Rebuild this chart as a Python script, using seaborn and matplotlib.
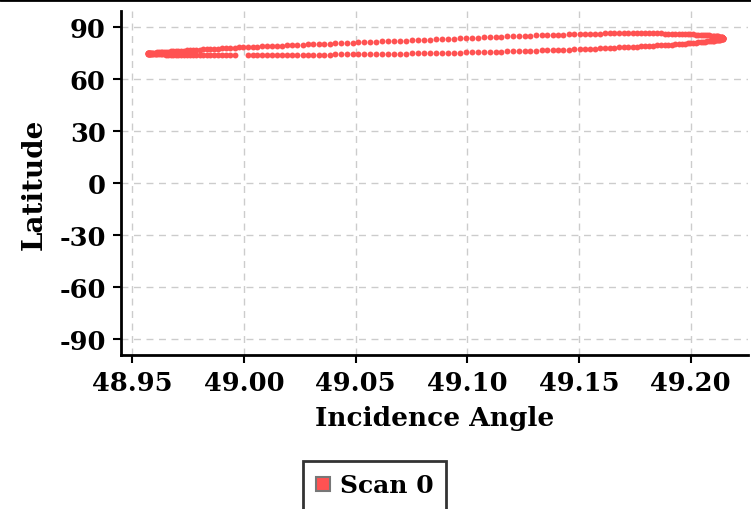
import pandas as pd
import matplotlib.pyplot as plt
from matplotlib.lines import Line2D
import seaborn as sns

# lower branch of the loop (left tip -> right tip), two dots missing near 49.00
inc_lower = [48.9572, 48.9572, 48.9573, 48.9575, 48.9577, 48.9579, 48.9582, 48.9586, 48.9590, 48.9595,
             48.9600, 48.9606, 48.9612, 48.9619, 48.9627, 48.9635, 48.9644, 48.9653, 48.9662, 48.9673,
             48.9683, 48.9695, 48.9706, 48.9719, 48.9731, 48.9744, 48.9758, 48.9772, 48.9787, 48.9802,
             48.9818, 48.9834, 48.9850, 48.9867, 48.9885, 48.9903, 48.9921, 48.9940, 48.9959,
             49.0018, 49.0039, 49.0060, 49.0081, 49.0103, 49.0125, 49.0147, 49.0169, 49.0192, 49.0216,
             49.0239, 49.0263, 49.0287, 49.0311, 49.0336, 49.0360, 49.0385, 49.0410, 49.0436, 49.0461,
             49.0487, 49.0513, 49.0539, 49.0565, 49.0591, 49.0618, 49.0644, 49.0671, 49.0698, 49.0725,
             49.0751, 49.0778, 49.0805, 49.0832, 49.0859, 49.0886, 49.0913, 49.0940, 49.0967, 49.0994,
             49.1020, 49.1047, 49.1074, 49.1100, 49.1127, 49.1153, 49.1179, 49.1205, 49.1231, 49.1257,
             49.1282, 49.1308, 49.1333, 49.1358, 49.1383, 49.1407, 49.1431, 49.1455, 49.1479, 49.1503,
             49.1526, 49.1549, 49.1571, 49.1594, 49.1616, 49.1637, 49.1658, 49.1679, 49.1700, 49.1720,
             49.1740, 49.1760, 49.1779, 49.1797, 49.1815, 49.1833, 49.1851, 49.1868, 49.1884, 49.1900,
             49.1916, 49.1931, 49.1946, 49.1960, 49.1974, 49.1987, 49.1999, 49.2012, 49.2024, 49.2035,
             49.2045, 49.2056, 49.2065, 49.2074, 49.2083, 49.2091, 49.2099, 49.2106, 49.2112, 49.2118,
             49.2123, 49.2128, 49.2132, 49.2136, 49.2139, 49.2142, 49.2144, 49.2145, 49.2146, 49.2146]
lat_lower = [74.70, 74.66, 74.62, 74.58, 74.54, 74.50, 74.46, 74.42, 74.38, 74.34,
             74.30, 74.26, 74.22, 74.19, 74.17, 74.14, 74.12, 74.09, 74.07, 74.05,
             74.02, 74.00, 73.98, 73.95, 73.93, 73.90, 73.89, 73.89, 73.88, 73.88,
             73.87, 73.87, 73.86, 73.86, 73.86, 73.85, 73.85, 73.85, 73.85,
             73.86, 73.86, 73.87, 73.87, 73.88, 73.88, 73.89, 73.89, 73.90, 73.90,
             73.93, 73.96, 73.98, 74.01, 74.04, 74.07, 74.10, 74.12, 74.15, 74.18,
             74.21, 74.23, 74.28, 74.33, 74.38, 74.43, 74.48, 74.54, 74.59, 74.64,
             74.69, 74.74, 74.80, 74.85, 74.90, 74.98, 75.06, 75.14, 75.22, 75.30,
             75.38, 75.46, 75.54, 75.62, 75.70, 75.78, 75.86, 75.96, 76.06, 76.16,
             76.26, 76.37, 76.47, 76.58, 76.68, 76.78, 76.89, 76.99, 77.10, 77.20,
             77.32, 77.44, 77.56, 77.68, 77.80, 77.92, 78.04, 78.16, 78.28, 78.40,
             78.52, 78.64, 78.77, 78.90, 79.04, 79.18, 79.31, 79.45, 79.59, 79.72,
             79.86, 80.00, 80.13, 80.27, 80.40, 80.54, 80.67, 80.81, 80.94, 81.08,
             81.22, 81.35, 81.49, 81.62, 81.76, 81.90, 82.03, 82.16, 82.27, 82.38,
             82.50, 82.61, 82.72, 82.83, 82.94, 83.06, 83.17, 83.28, 83.39, 83.50]

# upper branch (right tip -> left tip)
inc_upper = [49.2146, 49.2145, 49.2144, 49.2142, 49.2139, 49.2136, 49.2132, 49.2128, 49.2123, 49.2118,
             49.2112, 49.2106, 49.2099, 49.2091, 49.2083, 49.2074, 49.2065, 49.2056, 49.2045, 49.2035,
             49.2024, 49.2012, 49.1999, 49.1987, 49.1974, 49.1960, 49.1946, 49.1931, 49.1916, 49.1900,
             49.1884, 49.1868, 49.1851, 49.1833, 49.1815, 49.1797, 49.1779, 49.1760, 49.1740, 49.1720,
             49.1700, 49.1679, 49.1658, 49.1637, 49.1616, 49.1594, 49.1571, 49.1549, 49.1526, 49.1503,
             49.1479, 49.1455, 49.1431, 49.1407, 49.1383, 49.1358, 49.1333, 49.1308, 49.1282, 49.1257,
             49.1231, 49.1205, 49.1179, 49.1153, 49.1127, 49.1100, 49.1074, 49.1047, 49.1020, 49.0994,
             49.0967, 49.0940, 49.0913, 49.0886, 49.0859, 49.0832, 49.0805, 49.0778, 49.0751, 49.0725,
             49.0698, 49.0671, 49.0644, 49.0618, 49.0591, 49.0565, 49.0539, 49.0513, 49.0487, 49.0461,
             49.0436, 49.0410, 49.0385, 49.0360, 49.0336, 49.0311, 49.0287, 49.0263, 49.0239, 49.0216,
             49.0192, 49.0169, 49.0147, 49.0125, 49.0103, 49.0081, 49.0060, 49.0039, 49.0018, 48.9998,
             48.9978, 48.9959, 48.9940, 48.9921, 48.9903, 48.9885, 48.9867, 48.9850, 48.9834, 48.9818,
             48.9802, 48.9787, 48.9772, 48.9758, 48.9744, 48.9731, 48.9719, 48.9706, 48.9695, 48.9683,
             48.9673, 48.9662, 48.9653, 48.9644, 48.9635, 48.9627, 48.9619, 48.9612, 48.9606, 48.9600,
             48.9595, 48.9590, 48.9586, 48.9582, 48.9579, 48.9577, 48.9575, 48.9573, 48.9572]
lat_upper = [83.61, 83.72, 83.83, 83.94, 84.06, 84.17, 84.28, 84.39, 84.50, 84.62,
             84.73, 84.84, 84.95, 85.04, 85.13, 85.22, 85.30, 85.39, 85.47, 85.55,
             85.62, 85.70, 85.77, 85.84, 85.90, 85.96, 86.01, 86.06, 86.11, 86.16,
             86.20, 86.24, 86.27, 86.30, 86.33, 86.36, 86.38, 86.39, 86.40, 86.40,
             86.39, 86.37, 86.34, 86.30, 86.25, 86.19, 86.13, 86.06, 85.98, 85.90,
             85.81, 85.72, 85.62, 85.52, 85.42, 85.31, 85.20, 85.09, 84.98, 84.86,
             84.74, 84.62, 84.50, 84.37, 84.24, 84.11, 83.97, 83.83, 83.69, 83.55,
             83.41, 83.27, 83.13, 82.99, 82.85, 82.71, 82.57, 82.43, 82.29, 82.15,
             82.02, 81.89, 81.76, 81.63, 81.50, 81.37, 81.24, 81.11, 80.98, 80.84,
             80.71, 80.57, 80.44, 80.30, 80.17, 80.03, 79.90, 79.76, 79.63, 79.50,
             79.37, 79.25, 79.12, 79.00, 78.87, 78.75, 78.63, 78.51, 78.39, 78.27,
             78.15, 78.03, 77.91, 77.79, 77.67, 77.55, 77.43, 77.31, 77.19, 77.07,
             76.95, 76.83, 76.71, 76.59, 76.48, 76.38, 76.28, 76.18, 76.08, 75.99,
             75.90, 75.81, 75.72, 75.63, 75.55, 75.47, 75.39, 75.32, 75.25, 75.18,
             75.12, 75.06, 75.00, 74.95, 74.90, 74.85, 74.81, 74.77, 74.73]

scan_label = 'Scan 0'
inc_ticks = [48.95, 49.00, 49.05, 49.10, 49.15, 49.20]
lat_ticks = [-90, -60, -30, 0, 30, 60, 90]

df = pd.DataFrame({'Incidence Angle': inc_lower + inc_upper,
                   'Latitude': lat_lower + lat_upper})

sns.set_theme(style='whitegrid')
plt.rcParams['font.family'] = ['DejaVu Serif']
plt.rcParams['font.weight'] = 'bold'
plt.rcParams['axes.unicode_minus'] = False
plt.rcParams['text.color'] = 'black'

red = '#ff5252'
fig = plt.figure(figsize=(7.51, 5.10), dpi=100)
ax = fig.add_axes([121 / 751, 1 - 356 / 510, 627 / 751, 344 / 510])

sns.scatterplot(data=df, x='Incidence Angle', y='Latitude', ax=ax,
                color=red, s=18, linewidth=0, legend=False)

ax.set_xlim(48.945, 49.2257)
ax.set_ylim(-99.2, 99.2)
ax.set_xticks(inc_ticks)
ax.set_xticklabels([f'{t:.2f}' for t in inc_ticks])
ax.set_yticks(lat_ticks)
ax.grid(True, color='#cccccc', linestyle=(0, (5, 4)), linewidth=1)
ax.set_axisbelow(True)
for side in ['top', 'right']:
    ax.spines[side].set_visible(False)
for side in ['left', 'bottom']:
    ax.spines[side].set_color('black')
    ax.spines[side].set_linewidth(2)
ax.tick_params(axis='both', length=6, width=1.5, color='black', labelsize=18.5,
               pad=5, left=True, bottom=True, labelcolor='black')
ax.set_xlabel('Incidence Angle', fontsize=19, fontweight='bold', color='black', labelpad=7)
ax.set_ylabel('Latitude', fontsize=20, fontweight='bold', color='black', labelpad=8)

handle = Line2D([], [], marker='s', linestyle='', markerfacecolor=red,
                markeredgecolor='#777777', markeredgewidth=1.5, markersize=10)
leg = fig.legend(handles=[handle], labels=[scan_label], loc='upper center',
                 bbox_to_anchor=(374.5 / 751, 1 - 462 / 510), borderaxespad=0,
                 frameon=True, fancybox=False, edgecolor='black',
                 prop={'size': 18, 'weight': 'bold'},
                 handlelength=0.6, handletextpad=0.4, borderpad=0.5)
leg.get_frame().set_linewidth(2)
for txt in leg.get_texts():
    txt.set_color('black')

fig.add_artist(Line2D([0, 1], [1 - 1.2 / 510] * 2, transform=fig.transFigure,
                      color='black', linewidth=2))

fig.savefig('out.png', dpi=100)
